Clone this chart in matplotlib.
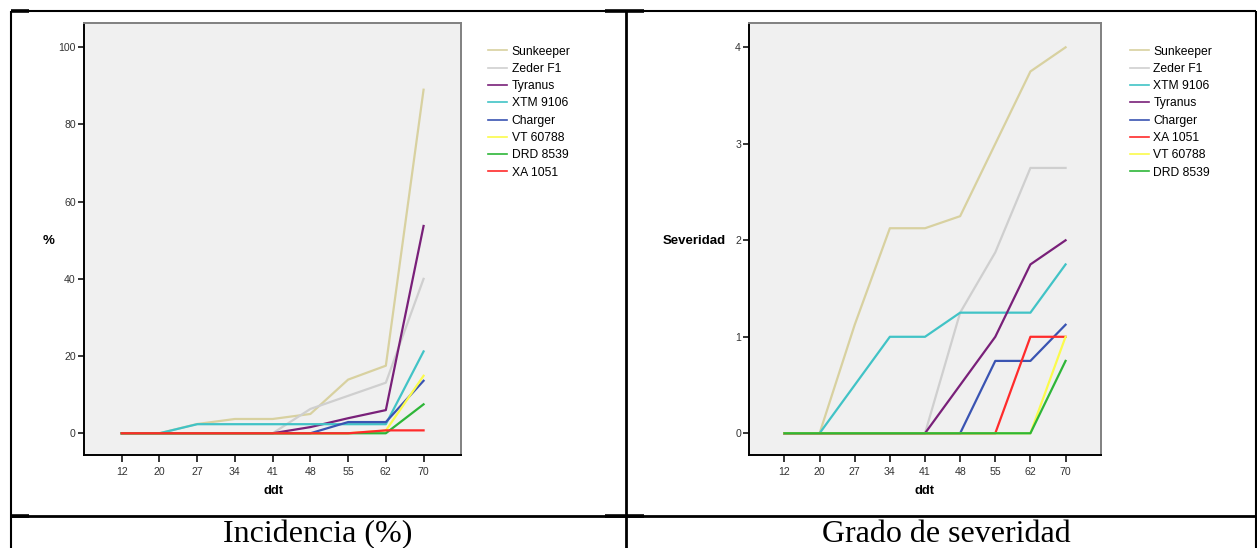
import matplotlib
matplotlib.use("Agg")
import matplotlib.pyplot as plt
from matplotlib.lines import Line2D

W, H = 1257, 548

DDT = [12, 20, 27, 34, 41, 48, 55, 62, 70]

# Incidencia (%)
INC_NAMES = ["Sunkeeper", "Zeder F1", "Tyranus", "XTM 9106", "Charger", "VT 60788", "DRD 8539", "XA 1051"]
inc_sunkeeper = [0, 0, 2.4, 3.7, 3.7, 5.0, 13.9, 17.5, 89.0]
inc_zeder = [0, 0, 0, 0, 0, 6.3, 9.7, 13.1, 40.0]
inc_tyranus = [0, 0, 0, 0, 0, 1.6, 3.9, 6.0, 53.7]
inc_xtm = [0, 0, 2.35, 2.35, 2.35, 2.35, 2.35, 2.35, 21.2]
inc_charger = [0, 0, 0, 0, 0, 0, 2.9, 2.9, 13.6]
inc_vt = [0, 0, 0, 0, 0, 0, 0, 0.7, 14.9]
inc_drd = [0, 0, 0, 0, 0, 0, 0, 0, 7.5]
inc_xa = [0, 0, 0, 0, 0, 0, 0, 0.75, 0.75]

# Grado de severidad
SEV_NAMES = ["Sunkeeper", "Zeder F1", "XTM 9106", "Tyranus", "Charger", "XA 1051", "VT 60788", "DRD 8539"]
sev_sunkeeper = [0, 0, 1.125, 2.125, 2.125, 2.25, 3.0, 3.75, 4.0]
sev_zeder = [0, 0, 0, 0, 0, 1.25, 1.875, 2.75, 2.75]
sev_xtm = [0, 0, 0.5, 1.0, 1.0, 1.25, 1.25, 1.25, 1.75]
sev_tyranus = [0, 0, 0, 0, 0, 0.5, 1.0, 1.75, 2.0]
sev_charger = [0, 0, 0, 0, 0, 0, 0.75, 0.75, 1.125]
sev_xa = [0, 0, 0, 0, 0, 0, 0, 1.0, 1.0]
sev_vt = [0, 0, 0, 0, 0, 0, 0, 0, 1.0]
sev_drd = [0, 0, 0, 0, 0, 0, 0, 0, 0.75]

COLORS = {
    "Sunkeeper": "#d8d1a0",
    "Zeder F1": "#cfcfcf",
    "Tyranus": "#792079",
    "XTM 9106": "#41c3c6",
    "Charger": "#3a54b2",
    "VT 60788": "#fbfb4c",
    "DRD 8539": "#2eb638",
    "XA 1051": "#ff2b2b",
}

SANS = "Liberation Sans"
SERIF = "Liberation Serif"


def fx(px):
    return px / W


def fy(py):
    return 1 - py / H


def style_axes(ax, ylim, yticks):
    ax.set_facecolor("#f0f0f0")
    ax.set_xlim(-1, 9)
    ax.set_ylim(*ylim)
    ax.set_xticks(range(len(DDT)))
    ax.set_xticklabels([str(d) for d in DDT])
    ax.set_yticks(yticks)
    for side in ["left", "bottom"]:
        ax.spines[side].set_color("#000000")
        ax.spines[side].set_linewidth(1.4)
    for side in ["top", "right"]:
        ax.spines[side].set_color("#808080")
        ax.spines[side].set_linewidth(1.4)
    ax.tick_params(axis="y", length=4.4, width=1.1, pad=1.5, labelsize=7.6, labelcolor="#333333")
    ax.tick_params(axis="x", length=5.2, width=1.1, pad=3.6, labelsize=7.6, labelcolor="#333333")
    for lab in ax.get_xticklabels() + ax.get_yticklabels():
        lab.set_family(SANS)


def legend(ax, names, x_px):
    handles = [Line2D([], [], color=COLORS[n], lw=1.2) for n in names]
    ax.legend(
        handles,
        names,
        loc="upper left",
        bbox_to_anchor=(fx(x_px), fy(45.5)),
        bbox_transform=ax.figure.transFigure,
        frameon=False,
        prop={"family": SANS, "size": 8.7},
        handlelength=1.57,
        handletextpad=0.36,
        labelspacing=0.44,
        borderpad=0,
        borderaxespad=0,
    )


fig = plt.figure(figsize=(W / 100, H / 100), dpi=100)

# left panel: incidence
ax1 = fig.add_axes([fx(84), fy(454.5), fx(461.3 - 84), (454.5 - 23.3) / H])
style_axes(ax1, (-5.5, 106.2), [0, 20, 40, 60, 80, 100])
x = range(len(DDT))
for name, vals in zip(INC_NAMES, [inc_sunkeeper, inc_zeder, inc_tyranus, inc_xtm,
                                  inc_charger, inc_vt, inc_drd, inc_xa]):
    ax1.plot(x, vals, color=COLORS[name], lw=1.6)
legend(ax1, INC_NAMES, 488.3)
fig.text(fx(48.3), fy(240.8), "%", fontsize=9.5, weight="bold", family=SANS, ha="center", va="center")
fig.text(fx(273), fy(491.4), "ddt", fontsize=9.3, weight="bold", family=SANS, ha="center", va="center")

# right panel: severity
ax2 = fig.add_axes([fx(749.3), fy(454.5), fx(1100.7 - 749.3), (454.5 - 23.3) / H])
style_axes(ax2, (-0.22, 4.249), [0, 1, 2, 3, 4])
for name, vals in zip(SEV_NAMES, [sev_sunkeeper, sev_zeder, sev_xtm, sev_tyranus,
                                  sev_charger, sev_xa, sev_vt, sev_drd]):
    ax2.plot(x, vals, color=COLORS[name], lw=1.6)
legend(ax2, SEV_NAMES, 1130)
fig.text(fx(725.5), fy(241), "Severidad", fontsize=9.5, weight="bold", family=SANS, ha="right", va="center")
fig.text(fx(924.7), fy(491.4), "ddt", fontsize=9.3, weight="bold", family=SANS, ha="center", va="center")

# table frame around the two panels
def seg(x0, y0, x1, y1, lw=1.5):
    fig.add_artist(Line2D([fx(x0), fx(x1)], [fy(y0), fy(y1)], color="black", lw=lw,
                          solid_capstyle="butt", transform=fig.transFigure))


seg(11, 11, 1256, 11)
seg(11, 11, 11, 548)
seg(626, 11, 626, 548, lw=2.0)
seg(1255.5, 11, 1255.5, 548)
seg(11, 516, 1256, 516, lw=2.0)
# thicker stubs at cell corners
seg(11, 11, 29, 11, lw=2.6)
seg(605, 11, 644, 11, lw=2.6)
seg(11, 516, 29, 516, lw=2.6)
seg(605, 516, 644, 516, lw=2.6)

# captions (the reference crops their lower edge slightly)
fig.text(fx(318), fy(542.5), "Incidencia (%)", fontsize=23, family=SERIF, ha="center", va="baseline")
fig.text(fx(946), fy(542.5), "Grado de severidad", fontsize=23, family=SERIF, ha="center", va="baseline")

fig.savefig("out.png", dpi=100, facecolor="white")
